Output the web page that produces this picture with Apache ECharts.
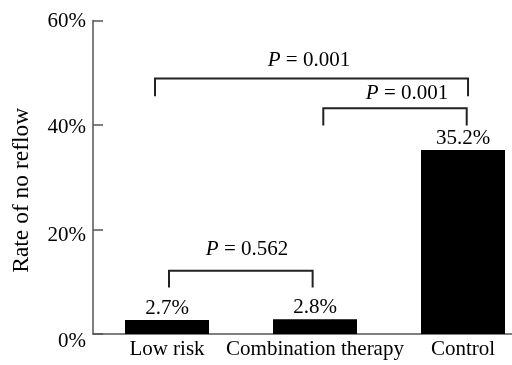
<!DOCTYPE html>
<html><head><meta charset="utf-8">
<script src="https://cdn.jsdelivr.net/npm/echarts@6/dist/echarts.min.js"></script>
<style>html,body{margin:0;padding:0;background:#fff}#c{width:512px;height:365px}</style>
</head><body><div id="c"></div>
<script>
var categories = ['Low risk', 'Combination therapy', 'Control'];
var rates = [2.7, 2.8, 35.2];
var yTicks = [0, 20, 40, 60];
// brackets: [leftX, rightX, topValue, legBottomValue] (x in category units)
var bracketLeft = [-0.081, 1.056, 0.0135];
var bracketRight = [2.034, 2.025, 0.984];
var bracketTop = [48.9, 43.2, 12.1];
var bracketLegBottom = [45.5, 39.9, 8.9];
var pValues = ['0.001', '0.001', '0.562'];
var pLabelX = [0.959, 1.622, 0.541];
var pLabelY = [52.4, 46.1, 16.1];

var FONT = '"Liberation Serif", "Times New Roman", serif';
var bracketData = bracketLeft.map(function (l, i) {
  return [l, bracketRight[i], bracketTop[i], bracketLegBottom[i], pLabelX[i], pLabelY[i], i];
});
var tickRich = {};
var tickPad = [15, 11, 5, 1];
yTicks.forEach(function (v, i) {
  tickRich['t' + i] = { padding: [tickPad[i], 0, 0, 0], fontSize: 21, fontFamily: FONT, color: '#000' };
});

var chart = echarts.init(document.getElementById('c'));
chart.setOption({
  animation: false,
  textStyle: { fontFamily: FONT },
  grid: { left: 93, top: 20.5, width: 444, height: 313.5, outerBoundsMode: 'none', containLabel: false },
  xAxis: [{
    type: 'category', data: categories,
    axisLine: { show: true, lineStyle: { color: '#555', width: 1.5 } },
    axisTick: { show: false },
    axisLabel: { color: '#000', fontSize: 21, fontFamily: FONT, margin: 5, interval: 0 }
  }, {
    type: 'value', min: -0.5, max: 2.5, show: false
  }],
  yAxis: {
    type: 'value', min: yTicks[0], max: yTicks[yTicks.length - 1], interval: 20,
    name: 'Rate of no reflow', nameLocation: 'middle', nameGap: 59,
    nameTextStyle: { color: '#000', fontSize: 23.5, fontFamily: FONT, padding: [0, 26, 0, 0] },
    axisLine: { show: true, onZero: false, lineStyle: { color: '#555', width: 1.5 } },
    axisTick: { show: true, inside: true, length: 10, lineStyle: { color: '#555', width: 1.5 } },
    axisLabel: {
      color: '#000', fontSize: 21, fontFamily: FONT, margin: 7,
      formatter: function (v) {
        var i = yTicks.indexOf(v);
        return '{t' + i + '|' + v + '%}';
      },
      rich: tickRich
    },
    splitLine: { show: false }
  },
  series: [{
    type: 'bar', data: rates, barWidth: 84,
    itemStyle: { color: '#000' },
    label: { show: true, position: 'top', distance: 1, color: '#000', fontSize: 21, fontFamily: FONT, formatter: '{c}%' }
  }, {
    type: 'custom', xAxisIndex: 1, yAxisIndex: 0, data: bracketData,
    renderItem: function (params, api) {
      var a = api.coord([api.value(0), api.value(3)]);
      var b = api.coord([api.value(0), api.value(2)]);
      var c = api.coord([api.value(1), api.value(2)]);
      var d = api.coord([api.value(1), api.value(3)]);
      var t = api.coord([api.value(4), api.value(5)]);
      var idx = api.value(6);
      return {
        type: 'group',
        children: [{
          type: 'polyline',
          shape: { points: [a, b, c, d] },
          style: { stroke: '#222', lineWidth: 2, fill: null }
        }, {
          type: 'text',
          x: t[0], y: t[1],
          style: {
            text: '{i|P} = ' + pValues[idx],
            align: 'center', verticalAlign: 'middle',
            fill: '#000', fontSize: 21, fontFamily: FONT,
            rich: { i: { fontStyle: 'italic', fontSize: 21, fontFamily: FONT, fill: '#000' } }
          }
        }]
      };
    }
  }]
});
</script></body></html>
